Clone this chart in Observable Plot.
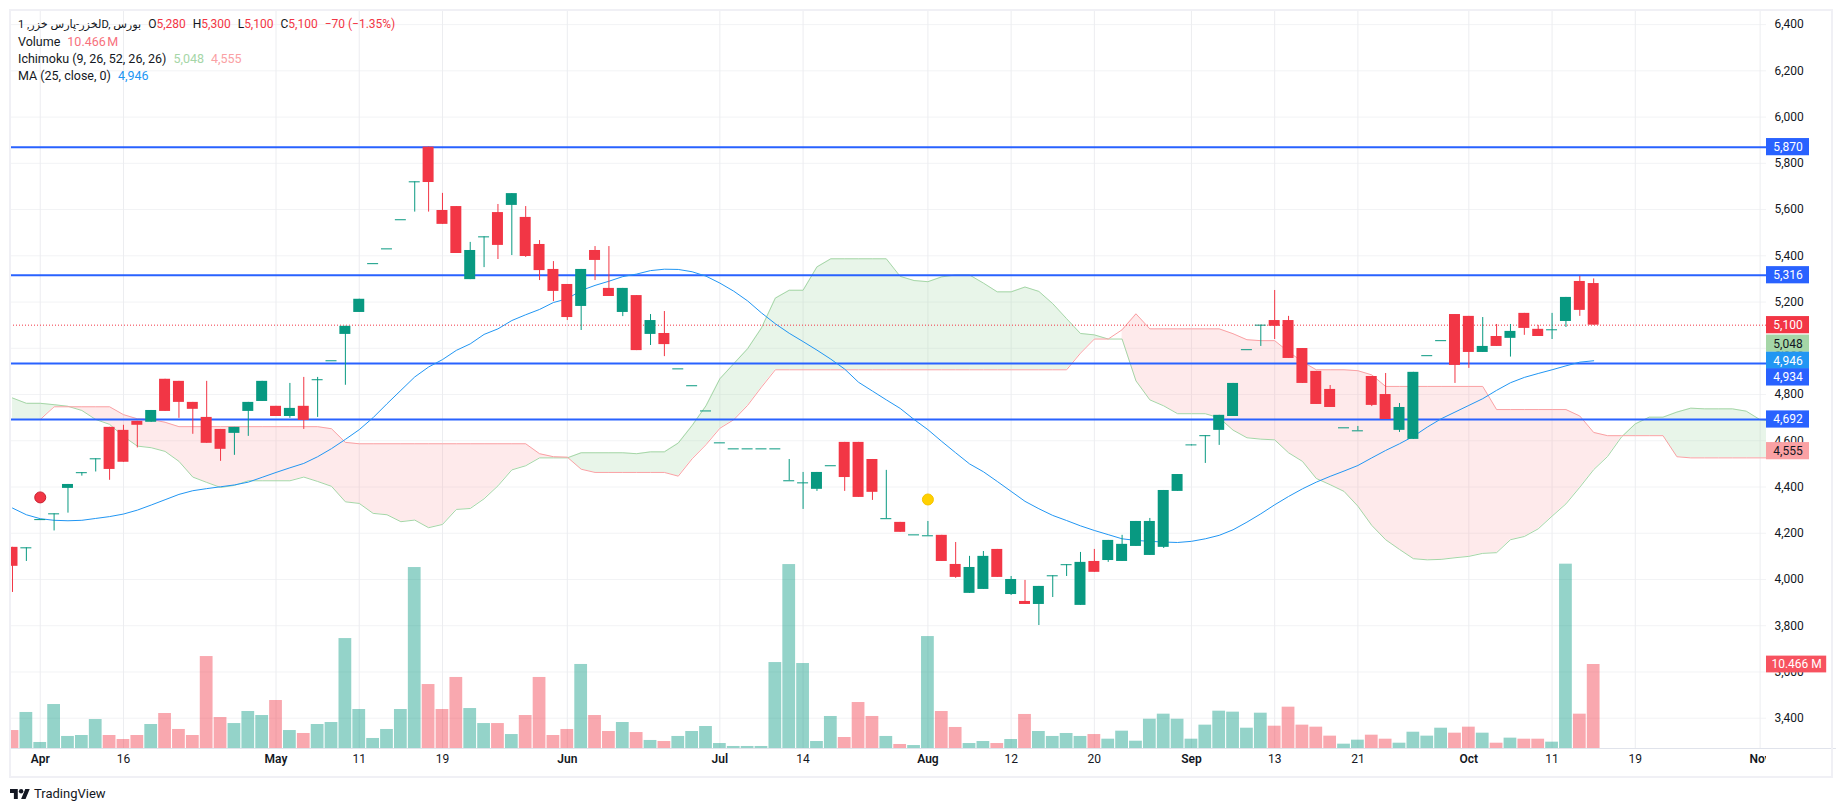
<!DOCTYPE html>
<html><head><meta charset="utf-8">
<script src="https://cdn.jsdelivr.net/npm/d3@7"></script>
<script src="https://cdn.jsdelivr.net/npm/@observablehq/plot@0.6"></script>
<style>
html,body{margin:0;padding:0;background:#fff;overflow:hidden}
#wrap{position:relative;width:1840px;height:811px;font-family:Roboto,"DejaVu Sans",sans-serif;color:#131722}
#frame{position:absolute;left:9px;top:9px;width:1820px;height:765px;border:2px solid #f0f0f5;pointer-events:none}
#legend{position:absolute;left:18px;top:16px;font-size:12.5px;line-height:17px;white-space:nowrap}
#legend span.g{margin-left:7px}
#legend .first{font-size:12px}
#legend .first .name{font-size:11.2px}
#legend .first span.k{margin-left:0}
.r{color:#f23645}
#logo{position:absolute;left:10px;top:786px;display:flex;align-items:center;gap:4px;font-size:13px;color:#131722}
</style></head><body>
<div id="wrap">
<div id="chart"></div>
<div id="frame"></div>
<div id="legend">
<div dir="ltr" class="first"><span class="name">لخزر-پارس خزر, 1D, بورس</span><span class="g">O</span><span class="r">5,280</span><span class="g">H</span><span class="r">5,300</span><span class="g">L</span><span class="r">5,100</span><span class="g">C</span><span class="r">5,100</span><span class="g r">−70 (−1.35%)</span></div>
<div>Volume<span class="g" style="color:#f7717c;word-spacing:-1.5px">10.466 M</span></div>
<div>Ichimoku (9, 26, 52, 26, 26)<span class="g" style="color:#a5d6a7">5,048</span><span class="g" style="color:#faa1a4">4,555</span></div>
<div>MA (25, close, 0)<span class="g" style="color:#2196f3">4,946</span></div>
</div>
<div id="logo"><svg width="20" height="14" viewBox="0 2 36 22"><path d="M14 22H7V11H0V4h14v18ZM28 22h-8l7.5-18h8L28 22Z" fill="#131722"/><circle cx="20" cy="8" r="4" fill="#131722"/></svg><span>TradingView</span></div>
</div>
<script>
const open=[4139,4137,4259,4284,4394,4462,4522,4658,4645,4684,4680,4866,4857,4766,4701,4649,4632,4727,4770,4749,4705,4749,4864,4946,5060,5155,5366,5430,5556,5720,5870,5596,5613,5297,5482,5587,5618,5566,5449,5341,5276,5181,5423,5259,5155,5228,5060,5064,4911,4838,4729,4591,4565,4565,4565,4565,4427,4418,4390,4492,4593,4593,4519,4263,4247,4193,4189,4191,4065,3940,3957,4130,3935,3905,3892,4016,4064,3888,4078,4082,4078,4143,4104,4139,4381,4578,4622,4645,4705,4994,5100,5120,5120,4999,4900,4822,4656,4643,4878,4800,4645,4606,4968,5033,5146,5138,4982,5051,5043,5151,5082,5080,5116,5289,5280];
const high=[4139,4137,4259,4284,4411,4462,4522,4658,4667,4684,4731,4866,4857,4766,4857,4649,4658,4766,4857,4749,4848,4874,4874,4946,5095,5212,5366,5430,5556,5720,5870,5670,5613,5458,5482,5622,5669,5613,5466,5375,5276,5341,5440,5440,5259,5228,5146,5159,4911,4838,4729,4591,4565,4565,4565,4565,4519,4463,4463,4492,4593,4593,4519,4472,4247,4193,4251,4191,4160,4100,4121,4130,4013,3996,3970,4016,4064,4117,4130,4169,4191,4251,4264,4385,4454,4582,4622,4710,4848,4994,5100,5250,5138,4999,4900,4839,4656,4662,4878,4891,4761,4896,4968,5033,5146,5138,5133,5103,5103,5151,5099,5151,5220,5311,5300];
const low=[3944,4078,4259,4210,4287,4447,4465,4429,4507,4569,4680,4727,4697,4628,4589,4511,4537,4619,4770,4705,4697,4649,4701,4946,4840,5155,5366,5430,5556,5589,5589,5536,5410,5297,5349,5384,5401,5393,5293,5202,5120,5077,5293,5224,5137,4990,5012,4964,4911,4838,4729,4591,4565,4565,4565,4565,4427,4303,4381,4492,4381,4355,4342,4263,4204,4193,4189,4078,4005,3940,3957,4009,3931,3892,3801,3922,4013,3888,4031,4074,4078,4143,4104,4134,4381,4578,4502,4580,4705,4994,5008,5038,4956,4848,4757,4744,4656,4643,4748,4692,4636,4606,4968,5033,4848,4913,4982,5008,4962,5056,5051,5038,5090,5138,5100];
const close=[4057,4137,4259,4284,4411,4462,4522,4476,4507,4667,4731,4727,4766,4736,4589,4563,4658,4766,4857,4705,4740,4688,4864,4946,5095,5212,5366,5430,5556,5720,5717,5536,5410,5423,5482,5445,5669,5397,5336,5246,5133,5341,5380,5224,5259,4990,5120,5016,4911,4838,4729,4591,4565,4565,4565,4565,4427,4418,4463,4492,4441,4355,4377,4263,4204,4193,4189,4078,4009,4052,4100,4009,4000,3892,3970,4016,4064,4074,4031,4169,4152,4251,4251,4385,4454,4582,4622,4710,4848,4994,5100,5095,4956,4848,4757,4744,4656,4643,4753,4692,4744,4896,4968,5033,4926,4982,5008,5008,5073,5086,5051,5080,5220,5164,5100];
const volume=[2.24,4.49,0.75,5.48,1.5,1.62,3.61,1.62,1.12,1.62,2.99,4.36,2.37,1.62,11.46,3.86,3.11,4.61,4.11,5.98,2.24,1.87,2.99,3.24,13.7,4.86,1.25,2.37,4.86,22.55,7.97,4.86,8.85,4.98,3.11,3.11,1.74,4.11,8.85,1.62,2.37,10.47,4.11,2.12,3.24,1.99,1.0,0.87,1.5,2.12,2.74,0.62,0.25,0.25,0.25,10.71,22.92,10.59,0.87,3.99,1.37,5.73,3.99,1.5,0.5,0.37,13.95,4.61,2.62,0.62,0.87,0.62,1.12,4.24,2.12,1.5,1.87,1.5,1.74,1.16,2.16,0.91,3.65,4.28,3.65,1.16,2.91,4.65,4.53,2.53,4.4,2.78,5.15,2.91,2.66,1.54,0.54,1.04,1.66,1.16,0.66,2.03,1.54,2.53,1.91,2.66,1.91,0.66,1.29,1.16,1.16,0.79,22.97,4.28,10.466];
const movingAverage=[4309,4280,4263,4256,4254,4256,4264,4272,4283,4300,4322,4345,4368,4384,4393,4401,4409,4421,4442,4463,4483,4502,4531,4566,4606,4648,4700,4760,4818,4876,4919,4951,4991,5019,5060,5084,5120,5145,5168,5198,5214,5250,5272,5290,5310,5321,5336,5342,5341,5331,5312,5282,5247,5205,5153,5106,5065,5029,4992,4953,4910,4853,4815,4777,4740,4692,4648,4597,4548,4500,4466,4424,4381,4338,4306,4277,4255,4232,4212,4194,4176,4169,4165,4162,4160,4165,4176,4191,4215,4248,4284,4323,4359,4392,4421,4446,4469,4493,4526,4558,4587,4619,4659,4695,4724,4753,4782,4818,4851,4874,4891,4907,4924,4940,4946];
const spanA=[4785,4762,4762,4756,4749,4731,4692,4671,4619,4577,4570,4554,4511,4443,4420,4398,4407,4427,4427,4427,4427,4443,4424,4403,4336,4329,4286,4280,4250,4257,4224,4238,4303,4307,4349,4405,4474,4492,4526,4526,4526,4548,4548,4548,4548,4544,4552,4552,4590,4666,4751,4868,4933,4998,5088,5217,5251,5251,5352,5387,5387,5387,5387,5387,5311,5293,5288,5309,5317,5317,5282,5244,5244,5265,5246,5193,5128,5064,5058,5040,5040,4859,4777,4751,4717,4717,4717,4699,4646,4613,4607,4604,4548,4511,4437,4410,4381,4317,4234,4172,4130,4090,4085,4087,4094,4100,4113,4116,4172,4186,4219,4274,4327,4399,4475,4532,4616,4673,4702,4702,4724,4741,4738,4738,4738,4728,4691,4685];
const spanB=[4692,4692,4692,4747,4747,4747,4747,4747,4713,4695,4692,4680,4661,4661,4661,4661,4661,4661,4661,4661,4661,4661,4661,4652,4593,4587,4587,4587,4587,4587,4587,4587,4587,4587,4587,4587,4587,4587,4544,4531,4529,4477,4463,4463,4463,4463,4463,4463,4447,4522,4583,4654,4691,4753,4832,4907,4907,4907,4907,4907,4907,4907,4907,4907,4907,4907,4907,4907,4907,4907,4907,4907,4907,4907,4907,4907,4907,4979,5040,5040,5080,5149,5084,5084,5084,5084,5084,5084,5063,5037,5033,5033,4985,4942,4907,4907,4907,4903,4885,4835,4835,4835,4835,4835,4835,4835,4835,4735,4735,4735,4735,4735,4735,4707,4636,4622,4622,4622,4622,4622,4531,4526,4526,4526,4526,4526,4526,4526];
const levels=[5870,5316,4934,4692];
const lastPrice=[5100];
const priceTicks=[3400,3600,3800,4000,4200,4400,4600,4800,5000,5200,5400,5600,5800,6000,6200,6400];
const monthTickIndex=[2,19,40,51,66,85,105,126];
const monthTickLabel=["Apr","May","Jun","Jul","Aug","Sep","Oct","Nov"];
const dayTickIndex=[8,25,31,57,72,78,91,97,111,117];
const dayTickLabel=["16","11","19","14","12","20","13","21","11","19"];
const tagPrice=[5870,5316,5100,5020,4946,4874,4692,4555];
const tagLabel=["5,870","5,316","5,100","5,048","4,946","4,934","4,692","4,555"];
const tagFill=["#2962ff","#2962ff","#f23645","#a5d6a7","#2196f3","#2962ff","#2962ff","#faa1a4"];
const tagText=["#fff","#fff","#fff","#131722","#fff","#fff","#fff","#131722"];
const eventIndex=[2,66];
const eventPrice=[4355,4346];
const eventFill=["#f23645","#ffd000"];
const eventStroke=["#c8202f","#f5c400"];

const GREEN="#089981",RED="#f23645";
const volBase=3269,volUnit=34.71,halfBody=0.396,halfVol=0.46;
const paneEnd=126.46,tagEnd=129.56,volTagEnd=130.8,frameEnd=131.5;
const bars=open.map((o,i)=>({i,o,h:high[i],l:low[i],c:close[i],v:volume[i],up:close[i]>=o,
  top:Math.max(o,close[i]),bot:Math.min(o,close[i])}));
const barFill=d=>d.up?GREEN:RED;
const solid=bars.filter(d=>d.top>d.bot), doji=bars.filter(d=>d.top===d.bot);

// cloud split where the two spans cross
const cloud=[];let seg=0;
spanA.forEach((a,i)=>{
  const b=spanB[i];
  if(i>0){
    const pa=spanA[i-1],pb=spanB[i-1];
    if((pa-pb)*(a-b)<0){
      const t=(pb-pa)/((a-pa)-(b-pb));
      const v=pa+t*(a-pa);
      cloud.push({x:i-1+t,a:v,b:v,seg,up:pa>pb});
      seg++;
      cloud.push({x:i-1+t,a:v,b:v,seg,up:a>b});
    }
  }
  cloud.push({x:i,a,b,seg,up:a>=b});
});
const idx=a=>a.map((v,i)=>({i,v}));
const tags=tagPrice.map((p,k)=>({p,label:tagLabel[k],fill:tagFill[k],text:tagText[k]}));
const tagH=37.2;
const clip={clip:"frame"};

const chart=Plot.plot({
  width:1840,height:811,marginTop:10,marginBottom:63,marginLeft:10,marginRight:74,
  style:{background:"transparent",color:"#131722",fontFamily:"Roboto, sans-serif",fontSize:"12px"},
  x:{domain:[-0.144,paneEnd],axis:null},
  y:{domain:[volBase,6461],axis:null},
  color:{type:"identity"},
  marks:[
    Plot.ruleY(priceTicks,{stroke:"#f2f3f5",strokeWidth:1}),
    Plot.ruleX([...monthTickIndex,...dayTickIndex],{stroke:"#ecedf0",strokeWidth:1}),
    Plot.areaY(cloud.filter(d=>d.up),{x:"x",y1:"a",y2:"b",z:"seg",fill:"#a5d6a7",fillOpacity:0.25,...clip}),
    Plot.areaY(cloud.filter(d=>!d.up),{x:"x",y1:"a",y2:"b",z:"seg",fill:"#faa1a4",fillOpacity:0.22,...clip}),
    Plot.line(idx(spanA),{x:"i",y:"v",stroke:"#a5d6a7",strokeWidth:1,...clip}),
    Plot.line(idx(spanB),{x:"i",y:"v",stroke:"#faa1a4",strokeWidth:1,...clip}),
    Plot.rect(bars,{x1:d=>d.i-halfVol,x2:d=>d.i+halfVol,y1:volBase,y2:d=>volBase+d.v*volUnit,fill:barFill,fillOpacity:0.43,...clip}),
    Plot.ruleY(lastPrice,{stroke:RED,strokeWidth:1,strokeDasharray:"1,2"}),
    Plot.ruleY(levels,{stroke:"#2962ff",strokeWidth:2}),
    Plot.line(idx(movingAverage),{x:"i",y:"v",stroke:"#2196f3",strokeWidth:1,...clip}),
    Plot.ruleX(bars,{x:"i",y1:"l",y2:"h",stroke:barFill,strokeWidth:1,...clip}),
    Plot.rect(solid,{x1:d=>d.i-halfBody,x2:d=>d.i+halfBody,y1:"bot",y2:"top",fill:barFill,...clip}),
    Plot.ruleY(doji,{y:"c",x1:d=>d.i-halfBody,x2:d=>d.i+halfBody,stroke:barFill,strokeWidth:1,...clip}),
    Plot.dot(eventIndex.map((x,k)=>({x,p:eventPrice[k],f:eventFill[k],s:eventStroke[k]})),{x:"x",y:"p",r:5.5,fill:"f",stroke:"s",strokeWidth:1}),
    Plot.ruleY([volBase],{x1:-0.144,x2:frameEnd,stroke:"#e0e3eb",strokeWidth:1}),
    Plot.axisY({anchor:"right",ticks:priceTicks,tickSize:0,tickPadding:8,tickFormat:d3.format(","),label:null}),
    Plot.text(monthTickIndex.map((i,k)=>({i,t:monthTickLabel[k]})),{x:"i",text:"t",frameAnchor:"bottom",dy:14,fontWeight:600,fill:"#131722"}),
    Plot.text(dayTickIndex.map((i,k)=>({i,t:dayTickLabel[k]})),{x:"i",text:"t",frameAnchor:"bottom",dy:14,fill:"#131722"}),
    Plot.rect([0],{x1:paneEnd,x2:frameEnd-0.1,y1:3260,y2:3150,fill:"#fff"}),
    Plot.rect(tags,{x1:paneEnd,x2:tagEnd,y1:d=>d.p-tagH,y2:d=>d.p+tagH,fill:"fill"}),
    Plot.text(tags,{x:(paneEnd+tagEnd)/2,y:"p",text:"label",fill:"text"}),
    Plot.rect([0],{x1:paneEnd,x2:volTagEnd,y1:volBase+10.466*volUnit-36.3,y2:volBase+10.466*volUnit+36.3,fill:"#f7525f"}),
    Plot.text(["10.466 M"],{x:(paneEnd+volTagEnd)/2,y:volBase+10.466*volUnit,text:d=>d,fill:"#fff"})
  ]
});
document.getElementById("chart").appendChild(chart);
</script>
</body></html>
